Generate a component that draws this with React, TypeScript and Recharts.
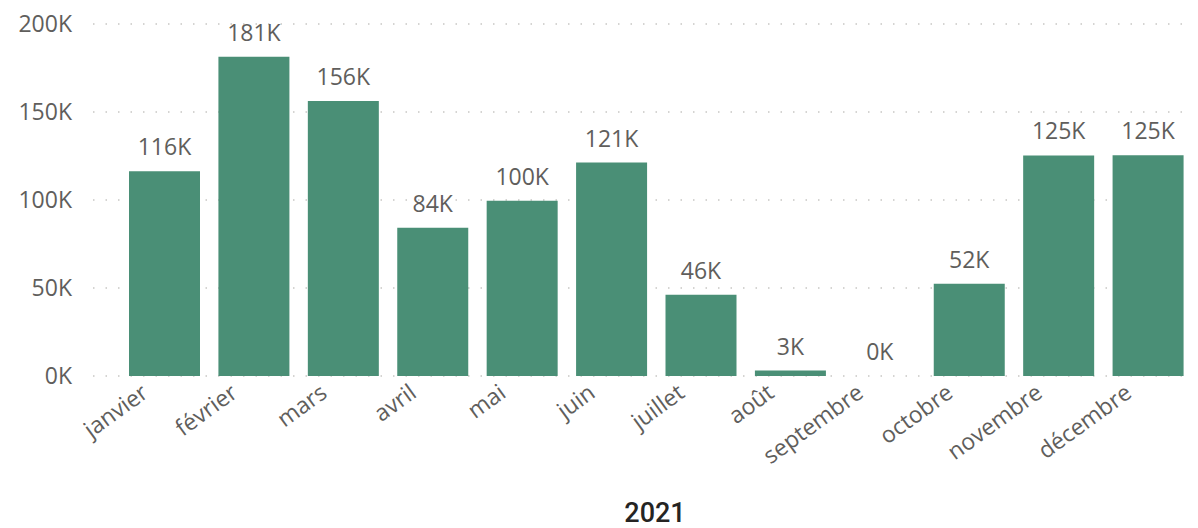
import { Bar, BarChart, CartesianGrid, LabelList, XAxis, YAxis } from 'recharts';

const months = [
  'janvier', 'février', 'mars', 'avril', 'mai', 'juin',
  'juillet', 'août', 'septembre', 'octobre', 'novembre', 'décembre',
];
const values = [
  116300, 181400, 156200, 84300, 99600, 121300,
  46200, 3100, 40, 52400, 125300, 125400,
];
const yTicks = [0, 50000, 100000, 150000, 200000];
const xTitle = '2021';

const data = months.map((m, i) => ({ month: m, value: values[i] }));

const fmtK = (v: number) => `${Math.round(v / 1000)}K`;
const textFont = '"Segoe UI", "Open Sans", sans-serif';
const gray = '#605E5C';

function MonthTick(props: any) {
  const { x, payload } = props;
  const tx = x - 15;
  const ty = 396;
  return (
    <text
      x={tx}
      y={ty}
      textAnchor="end"
      transform={`rotate(-36 ${tx} ${ty})`}
      fill={gray}
      fontSize={23}
      fontFamily={textFont}
    >
      {payload.value}
    </text>
  );
}

function ValueTick(props: any) {
  const { y, payload } = props;
  return (
    <text x={72} y={y} dy="0.36em" textAnchor="end" fill={gray} fontSize={23} fontFamily={textFont}>
      {fmtK(payload.value)}
    </text>
  );
}

export default function App() {
  return (
    <div style={{ position: 'absolute', left: 0, top: 0, background: '#fff' }}>
      <BarChart width={1198} height={528} data={data} margin={{ top: 24, right: 5, bottom: 0, left: 0 }}>
        <CartesianGrid vertical={false} stroke="#C8C6C4" strokeWidth={1.5} strokeDasharray="1.5 11" />
        <XAxis
          dataKey="month"
          height={152}
          padding={{ left: 27, right: 0 }}
          axisLine={false}
          tickLine={false}
          interval={0}
          tick={<MonthTick />}
          label={{
            value: xTitle,
            position: 'insideBottom',
            offset: 6,
            dx: 12,
            style: { fill: '#252423', fontSize: 27, fontWeight: 500, fontFamily: 'Roboto, sans-serif' },
          }}
        />
        <YAxis
          width={93}
          domain={[0, 200000]}
          ticks={yTicks}
          axisLine={false}
          tickLine={false}
          tick={<ValueTick />}
        />
        <Bar dataKey="value" fill="#4A8F76" barSize={71} isAnimationActive={false}>
          <LabelList
            dataKey="value"
            position="top"
            offset={16}
            formatter={(v: any) => fmtK(Number(v))}
            style={{ fill: gray, fontSize: 23, fontFamily: textFont }}
          />
        </Bar>
      </BarChart>
    </div>
  );
}
